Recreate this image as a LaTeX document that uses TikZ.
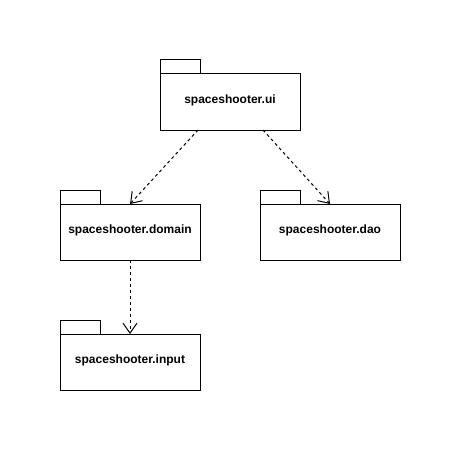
\documentclass[tikz,border=0pt]{standalone}
\usepackage{fontspec}
\setmainfont{Liberation Sans}
\usetikzlibrary{arrows.meta}
\tikzset{
  pkgbody/.style={draw=black, line width=1pt, fill=white, minimum width=140pt, minimum height=56pt,
    inner sep=0pt, outer sep=0pt, font=\fontsize{12}{14}\selectfont\bfseries,
    text height=6pt, text depth=3.4pt},
  pkgtab/.style={draw=black, line width=1pt, fill=white, minimum width=40pt, minimum height=14pt,
    inner sep=0pt, outer sep=0pt, anchor=south west},
  dep/.style={draw=black, line width=1pt, dash pattern=on 3pt off 3pt,
    -{Straight Barb[length=10pt,width=14pt,line width=1pt]}}
}
\begin{document}
\begin{tikzpicture}[x=1pt,y=-1pt]
\useasboundingbox (0,0) rectangle (461,452);
% packages
\node[pkgbody] (ui) at (230,102) {spaceshooter.ui};
\node[pkgtab] (uitab) at (ui.north west) {};
\node[pkgbody] (dom) at (130,232) {spaceshooter.domain};
\node[pkgtab] (domtab) at (dom.north west) {};
\node[pkgbody] (dao) at (330,232) {spaceshooter.dao};
\node[pkgtab] (daotab) at (dao.north west) {};
\node[pkgbody] (inp) at (130,362) {spaceshooter.input};
\node[pkgtab] (inptab) at (inp.north west) {};
% dependencies
\draw[dep] ([xshift=-32pt]ui.south) -- (dom.north);
\draw[dep] ([xshift=33pt]ui.south) -- (dao.north);
\draw[dep] (dom.south) -- (inp.north);
\end{tikzpicture}
\end{document}
